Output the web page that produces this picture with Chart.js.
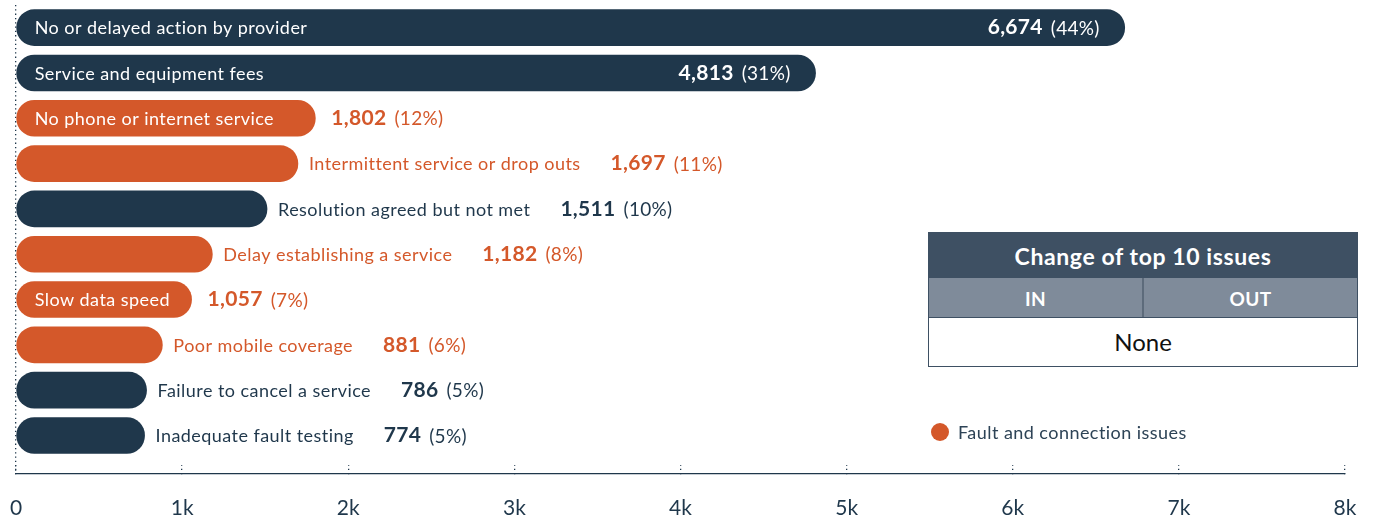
<!DOCTYPE html>
<html>
<head>
<meta charset="utf-8">
<script src="https://cdn.jsdelivr.net/npm/chart.js@4.4.1/dist/chart.umd.min.js"></script>
<style>
  html, body { margin: 0; padding: 0; background: #ffffff; }
  #wrap { position: relative; width: 1375px; height: 517px; }
  #tbl { position: absolute; left: 928px; top: 232px; width: 430px; border: 1px solid #3e5063; box-sizing: border-box; font-family: Lato, sans-serif; }
  #tbl .h { background: #3e5063; color: #fff; font-weight: 700; font-size: 23px; letter-spacing: 0.6px; height: 45px; line-height: 47px; text-align: center; }
  #tbl .sub { display: flex; background: #7f8b9a; color: #fff; font-weight: 700; font-size: 19px; letter-spacing: 0.3px; height: 39px; line-height: 41px; }
  #tbl .sub div { flex: 1; text-align: center; }
  #tbl .sub div:first-child { border-right: 2px solid #5d6b7b; }
  #tbl .none { background: #fff; color: #111; font-size: 24px; height: 48px; line-height: 48px; text-align: center; border-top: 1px solid #3e5063; }
</style>
</head>
<body>
<div id="wrap">
  <canvas id="c" width="1375" height="517"></canvas>
  <div id="tbl">
    <div class="h">Change of top 10 issues</div>
    <div class="sub"><div>IN</div><div>OUT</div></div>
    <div class="none">None</div>
  </div>
</div>
<script>
const categories = [
  "No or delayed action by provider",
  "Service and equipment fees",
  "No phone or internet service",
  "Intermittent service or drop outs",
  "Resolution agreed but not met",
  "Delay establishing a service",
  "Slow data speed",
  "Poor mobile coverage",
  "Failure to cancel a service",
  "Inadequate fault testing"
];
const values = [6674, 4813, 1802, 1697, 1511, 1182, 1057, 881, 786, 774];
const percents = [44, 31, 12, 11, 10, 8, 7, 6, 5, 5];
const isFault = [false, false, true, true, false, true, true, true, false, false];
const xTicks = [0, 1000, 2000, 3000, 4000, 5000, 6000, 7000, 8000];
const xTickLabels = ["0", "1k", "2k", "3k", "4k", "5k", "6k", "7k", "8k"];
const legendText = "Fault and connection issues";

const NAVY = "#1f374b";
const ORANGE = "#d4582a";
const FONT = "Lato, 'Open Sans', sans-serif";

function setSpacing(ctx, s) { if ("letterSpacing" in ctx) ctx.letterSpacing = s; }

const labelPlugin = {
  id: "barLabels",
  afterDatasetsDraw(chart) {
    const ctx = chart.ctx;
    const meta = chart.getDatasetMeta(0);
    ctx.save();
    ctx.textBaseline = "middle";
    meta.data.forEach((bar, i) => {
      const color = isFault[i] ? ORANGE : NAVY;
      const start = bar.base;
      const end = bar.x;
      const y = bar.y;
      const len = end - start;
      setSpacing(ctx, "0.45px");
      ctx.font = "18px " + FONT;
      const lw = ctx.measureText(categories[i]).width;
      setSpacing(ctx, "0.3px");
      ctx.font = "bold 21px " + FONT;
      const numTxt = values[i].toLocaleString("en-US");
      const nw = ctx.measureText(numTxt).width;
      ctx.font = "19px " + FONT;
      const pctTxt = "(" + percents[i] + "%)";
      const pw = ctx.measureText(pctTxt).width;
      const vw = nw + 8 + pw;
      const labelInside = lw + 30 <= len;
      const valueInside = labelInside && (lw + vw + 18 + 40 + 25 <= len);
      ctx.textAlign = "left";
      setSpacing(ctx, "0.45px");
      ctx.font = "18px " + FONT;
      let valueX;
      if (labelInside) {
        ctx.fillStyle = "#ffffff";
        ctx.fillText(categories[i], start + 18, y + 1);
        valueX = valueInside ? end - 25 - vw : end + 16;
      } else {
        ctx.fillStyle = color;
        ctx.fillText(categories[i], end + 11, y + 1);
        valueX = end + 11 + lw + 30;
      }
      ctx.fillStyle = valueInside ? "#ffffff" : color;
      setSpacing(ctx, "0.3px");
      ctx.font = "bold 21px " + FONT;
      ctx.fillText(numTxt, valueX, y);
      ctx.font = "19px " + FONT;
      ctx.fillText(pctTxt, valueX + nw + 8, y + 1);
    });
    // legend
    const lx = 940, ly = 432;
    ctx.beginPath();
    ctx.arc(lx, ly, 9, 0, Math.PI * 2);
    ctx.fillStyle = ORANGE;
    ctx.fill();
    ctx.fillStyle = "#2d4356";
    setSpacing(ctx, "0.45px");
    ctx.font = "18px " + FONT;
    ctx.textAlign = "left";
    ctx.fillText(legendText, 958, ly + 1);
    ctx.restore();
  }
};

new Chart(document.getElementById("c"), {
  type: "bar",
  data: {
    labels: categories,
    datasets: [{
      data: values.map((v, i) => ({ x: v, y: i })),
      backgroundColor: isFault.map(f => f ? ORANGE : NAVY),
      borderRadius: 18,
      borderSkipped: false,
      barThickness: 36
    }]
  },
  options: {
    indexAxis: "y",
    responsive: false,
    animation: false,
    layout: { padding: { top: 5, left: 16, right: 30, bottom: 0 } },
    plugins: { legend: { display: false }, tooltip: { enabled: false } },
    scales: {
      y: {
        type: "linear",
        min: -0.5,
        max: 9.85,
        reverse: true,
        offset: false,
        grace: 0,
        display: false,
        ticks: { stepSize: 1 }
      },
      x: {
        type: "linear",
        min: 0,
        max: 8000,
        afterBuildTicks(scale) { scale.ticks = xTicks.map(v => ({ value: v })); },
        afterFit(scale) { scale.height = 43; scale.paddingLeft = 0; scale.paddingRight = 0; },
        ticks: {
          callback: (v) => xTickLabels[xTicks.indexOf(v)],
          color: "#1f374b",
          font: { family: FONT, size: 21 },
          padding: 31,
          maxRotation: 0
        },
        grid: {
          drawOnChartArea: true,
          color: (c) => (c.tick && c.tick.value === 0) ? "#1f374b" : "rgba(0,0,0,0)",
          lineWidth: 1.3,
          drawTicks: true,
          tickLength: -9,
          tickColor: "#1f374b",
          tickWidth: 1.3,
          tickBorderDash: [1.3, 3]
        },
        border: { display: true, color: "#1f374b", width: 1.3, dash: [1.3, 3] }
      }
    }
  },
  plugins: [labelPlugin]
});
</script>
</body>
</html>
